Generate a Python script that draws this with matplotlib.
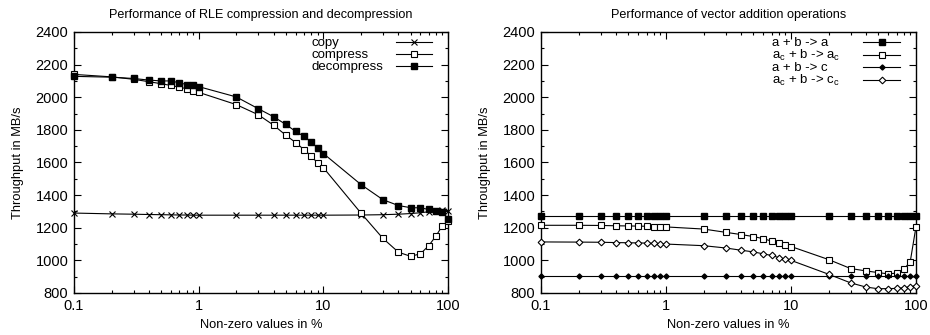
import matplotlib
matplotlib.use('Agg')
import matplotlib.pyplot as plt
from matplotlib.ticker import FixedLocator, LogLocator, FuncFormatter, MultipleLocator, NullFormatter

plt.rcParams['font.family'] = ['Liberation Sans', 'DejaVu Sans']
plt.rcParams['mathtext.fontset'] = 'custom'
plt.rcParams['mathtext.rm'] = 'Liberation Sans'
plt.rcParams['mathtext.it'] = 'Liberation Sans'
plt.rcParams['mathtext.default'] = 'rm'

# x positions: share of non-zero values in %
nonzero = [0.1, 0.2, 0.3, 0.4, 0.5, 0.6, 0.7, 0.8, 0.9,
           1, 2, 3, 4, 5, 6, 7, 8, 9,
           10, 20, 30, 40, 50, 60, 70, 80, 90, 100]

# left chart: RLE
copy = [1290, 1285, 1283, 1281, 1280, 1279, 1278, 1278, 1277,
        1277, 1277, 1277, 1277, 1277, 1277, 1277, 1277, 1277,
        1277, 1278, 1280, 1283, 1287, 1292, 1298, 1303, 1310, 1305]
compress = [2140, 2125, 2110, 2095, 2083, 2072, 2062, 2052, 2040,
            2030, 1955, 1893, 1828, 1767, 1722, 1678, 1640, 1595,
            1568, 1290, 1135, 1050, 1025, 1040, 1090, 1150, 1212, 1240]
decompress = [2128, 2123, 2115, 2105, 2100, 2100, 2088, 2078, 2076,
              2065, 2002, 1930, 1880, 1833, 1790, 1760, 1725, 1688,
              1655, 1465, 1372, 1336, 1323, 1322, 1312, 1300, 1298, 1255]

# right chart: vector addition
add_a = [1275] * 28
add_ac = [1215, 1215, 1214, 1212, 1211, 1210, 1209, 1207, 1206,
          1205, 1192, 1172, 1158, 1146, 1133, 1118, 1106, 1097,
          1085, 1005, 950, 935, 925, 917, 922, 945, 992, 1205]
add_c = [902] * 28
add_cc = [1113, 1112, 1111, 1109, 1108, 1107, 1106, 1104, 1102,
          1100, 1090, 1076, 1062, 1052, 1040, 1030, 1017, 1007,
          1000, 915, 862, 836, 826, 827, 828, 832, 838, 845]

fig = plt.figure(figsize=(9.3, 3.35), dpi=100)
ax1 = fig.add_axes([0.0796, 0.1254, 0.4022, 0.7791])
ax2 = fig.add_axes([0.5817, 0.1254, 0.4032, 0.7791])

ms = 4.5
left_series = [
    ('copy', copy, dict(marker='x', markersize=4, markeredgewidth=0.8)),
    ('compress', compress, dict(marker='s', markersize=ms, markerfacecolor='white', markeredgewidth=0.8)),
    ('decompress', decompress, dict(marker='s', markersize=ms, markerfacecolor='black')),
]
right_series = [
    ('a + b -> a', add_a, dict(marker='s', markersize=ms, markerfacecolor='black')),
    ('a$_c$ + b -> a$_c$', add_ac, dict(marker='s', markersize=ms, markerfacecolor='white', markeredgewidth=0.8)),
    ('a + b -> c', add_c, dict(marker='D', markersize=2.6, markerfacecolor='black')),
    ('a$_c$ + b -> c$_c$', add_cc, dict(marker='D', markersize=3.4, markerfacecolor='white', markeredgewidth=0.8)),
]


def draw(ax, series, title, text_x, rows):
    for (label, vals, style), ry in zip(series, rows):
        ax.plot(nonzero, vals, color='black', linewidth=0.8, markeredgecolor='black',
                clip_on=False, zorder=3, **style)
        # gnuplot-style key: text left, sample right
        ax.text(text_x, ry - 0.015, label, transform=ax.transAxes, fontsize=9.5,
                ha='left', va='baseline')
        ax.plot([0.86, 0.957], [ry, ry], transform=ax.transAxes, color='black',
                linewidth=0.8, clip_on=False)
        ax.plot([0.9085], [ry], transform=ax.transAxes, color='black',
                markeredgecolor='black', clip_on=False, **style)
    ax.set_xscale('log')
    ax.set_xlim(0.1, 100)
    ax.set_ylim(800, 2400)
    ax.xaxis.set_major_locator(FixedLocator([0.1, 1, 10, 100]))
    ax.xaxis.set_major_formatter(FuncFormatter(lambda v, p: '%g' % v))
    ax.xaxis.set_minor_locator(LogLocator(base=10, subs=range(2, 10)))
    ax.xaxis.set_minor_formatter(NullFormatter())
    ax.yaxis.set_major_locator(MultipleLocator(200))
    ax.yaxis.set_minor_locator(MultipleLocator(100))
    ax.tick_params(which='both', direction='in', top=True, right=True, labelsize=10.5, width=0.8)
    ax.tick_params(which='major', length=5, pad=4)
    ax.tick_params(which='minor', length=2.5)
    for s in ax.spines.values():
        s.set_linewidth(1.0)
    ax.set_title(title, fontsize=9.1, pad=10)
    ax.set_xlabel('Non-zero values in %', fontsize=9.3, labelpad=5)
    ax.set_ylabel('Throughput in MB/s', fontsize=9.3, labelpad=8)


draw(ax1, left_series, 'Performance of RLE compression and decompression',
     0.636, [0.962, 0.916, 0.870])
draw(ax2, right_series, 'Performance of vector addition operations',
     0.616, [0.962, 0.912, 0.864, 0.815])

fig.savefig('out.png', dpi=100)
